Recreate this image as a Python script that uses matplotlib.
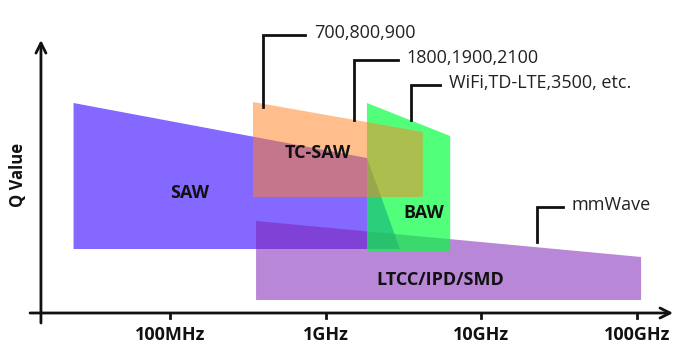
import numpy as np
import matplotlib
matplotlib.use('Agg')
import matplotlib.pyplot as plt

# frequency in Hz (log axis), Q value in arbitrary units
saw_f = [2.4e7, 1.84e9, 3.0e9, 2.4e7]
saw_q = [210, 155, 64, 64]

ltcc_f = [3.57e8, 1.06e11, 1.06e11, 3.57e8]
ltcc_q = [92, 56, 13, 13]

tcsaw_f = [3.41e8, 4.2e9, 4.2e9, 3.41e8]
tcsaw_q = [211, 181, 116, 116]

baw_f = [1.84e9, 6.3e9, 6.3e9, 1.84e9]
baw_q = [210, 177, 61, 61]

region_labels = ['SAW', 'TC-SAW', 'BAW', 'LTCC/IPD/SMD']
region_label_f = [1.33e8, 8.9e8, 4.25e9, 5.4e9]
region_label_q = [120, 160, 100, 33]

# callouts: anchor frequency, bottom Q, top Q, end frequency, text
callout_text = ['700,800,900', '1800,1900,2100', 'WiFi,TD-LTE,3500, etc.', 'mmWave']
callout_f = [3.95e8, 1.52e9, 3.53e9, 2.28e10]
callout_f_end = [7.36e8, 2.91e9, 5.42e9, 3.34e10]
callout_q0 = [206, 193, 193, 71]
callout_q1 = [278, 253, 228, 106]

tick_f = [1e8, 1e9, 1e10, 1e11]
tick_labels = ['100MHz', '1GHz', '10GHz', '100GHz']

fig = plt.figure(figsize=(6.98, 3.56), dpi=100)
ax = fig.add_axes([0, 0, 1, 1])
ax.set_xscale('log')
ax.set_xlim(10 ** 6.908, 10 ** 11.391)
ax.set_ylim(-43, 313)
ax.axis('off')

ax.fill(saw_f, saw_q, color='#8468ff', lw=0, zorder=1)
ax.fill(ltcc_f, ltcc_q, color='#7d21b5', alpha=0.54, lw=0, zorder=2)
ax.fill(baw_f, baw_q, color='#00ff3c', alpha=0.68, lw=0, zorder=3)
ax.fill(tcsaw_f, tcsaw_q, color='#ff8323', alpha=0.52, lw=0, zorder=4)

for t, f, q in zip(region_labels, region_label_f, region_label_q):
    ax.text(f, q, t, ha='center', va='center', fontsize=13, fontweight='bold',
            family='Open Sans', color='#111111', zorder=6)

for t, f0, f1, q0, q1 in zip(callout_text, callout_f, callout_f_end, callout_q0, callout_q1):
    ax.plot([f0, f0, f1], [q0, q1, q1], color='#111111', lw=2, zorder=5,
            solid_joinstyle='miter')
    ax.text(f1 * 1.14, q1 + 2, t, ha='left', va='center', fontsize=13,
            family='Open Sans', color='#222222')

# axes with arrows
x_left = 10 ** 7.101
x_right = 10 ** 11.231
y_axis_f = 10 ** 7.171
ax.annotate('', xy=(x_right, 0), xytext=(x_left, 0),
            arrowprops=dict(arrowstyle='->', lw=2, color='#111111',
                            mutation_scale=18, shrinkA=0, shrinkB=0))
ax.annotate('', xy=(y_axis_f, 273), xytext=(y_axis_f, -10),
            arrowprops=dict(arrowstyle='->', lw=2, color='#111111',
                            mutation_scale=18, shrinkA=0, shrinkB=0))

for f, lab in zip(tick_f, tick_labels):
    ax.plot([f, f], [0, -5], color='#111111', lw=2)
    ax.text(f, -22, lab, ha='center', va='center', fontsize=13,
            fontweight='bold', family='Open Sans', color='#111111')

ax.text(10 ** 7.024, 138, 'Q Value', rotation=90, ha='center', va='center',
        fontsize=12, fontweight='bold', family='Open Sans', color='#111111')

fig.savefig('out.png', dpi=100)
